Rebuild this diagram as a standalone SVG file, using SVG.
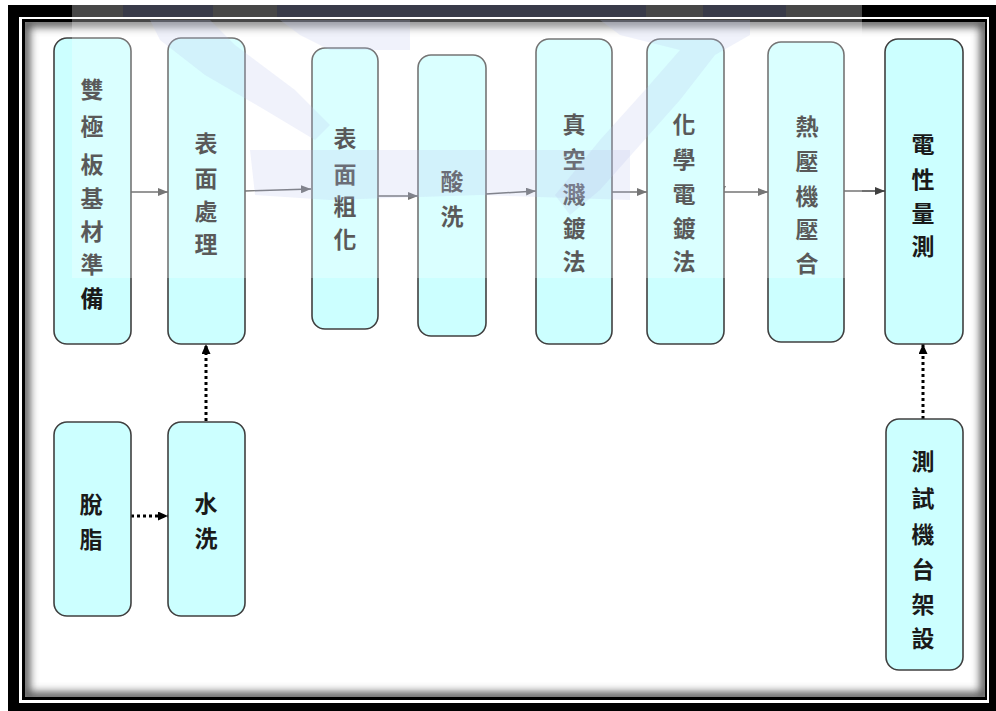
<svg xmlns="http://www.w3.org/2000/svg" width="996" height="711" viewBox="0 0 996 711">
<defs>
<style>
.node rect{fill:#CCFFFF;stroke:#404040;stroke-width:1.6}
.lbl{font-family:"Noto Sans CJK TC","Noto Sans CJK SC",sans-serif;font-weight:bold;font-size:23px;fill:#1a1a1a;text-anchor:middle;dominant-baseline:central}
.solid{stroke:#404040;stroke-width:1.4;fill:none}
.dot{stroke:#000;stroke-width:3;stroke-dasharray:3 3;fill:none}
.wm{fill:#b4c0ec;opacity:0.2}
</style>
<marker id="ah" markerWidth="10" markerHeight="8" refX="10" refY="4" orient="auto" markerUnits="userSpaceOnUse">
<path d="M0,0 L10,4 L0,8 Z" fill="#404040"/>
</marker>
<marker id="ahd" markerWidth="10" markerHeight="9" refX="10" refY="4.5" orient="auto" markerUnits="userSpaceOnUse">
<path d="M0,0 L10,4.5 L0,9 Z" fill="#000"/>
</marker>
<clipPath id="inner"><rect x="25" y="22" width="960" height="675"/></clipPath>
<filter id="blur" x="-5%" y="-5%" width="110%" height="110%"><feGaussianBlur stdDeviation="4"/></filter>
</defs>
<rect width="996" height="711" fill="#fff"/>
<g id="frame">
<rect x="8" y="5" width="988" height="706" fill="#000"/>
<rect x="19" y="17" width="970" height="686" fill="#fff"/>
<rect x="22" y="19" width="965" height="681" fill="#000"/>
<rect x="25" y="22" width="960" height="675" fill="#fff"/>
<g clip-path="url(#inner)"><rect x="25" y="22" width="960" height="675" fill="none" stroke="#555" stroke-width="10" filter="url(#blur)"/></g>
</g>
<g id="connectors">
<line class="solid" x1="131" y1="192" x2="168" y2="192" marker-end="url(#ah)"/>
<line class="solid" x1="245" y1="191" x2="311" y2="189" marker-end="url(#ah)"/>
<line class="solid" x1="378" y1="196" x2="418" y2="196" marker-end="url(#ah)"/>
<line class="solid" x1="486" y1="194" x2="536" y2="191" marker-end="url(#ah)"/>
<line class="solid" x1="612" y1="192" x2="647" y2="192" marker-end="url(#ah)"/>
<line class="solid" x1="724" y1="192" x2="768" y2="192" marker-end="url(#ah)"/>
<path d="M720,186 L726,186 L723,192 Z" fill="#404040"/>
<line class="solid" x1="844" y1="191" x2="885" y2="191" marker-end="url(#ah)"/>
<line class="dot" x1="131" y1="516" x2="168" y2="516" marker-end="url(#ahd)"/>
<line class="dot" x1="206" y1="421" x2="206" y2="344" marker-end="url(#ahd)"/>
<line class="dot" x1="923" y1="419" x2="923" y2="344" marker-end="url(#ahd)"/>
</g>
<g id="n1" class="node"><rect x="54" y="38" width="77" height="306" rx="13"/>
<text class="lbl"><tspan x="92" y="88">雙</tspan><tspan x="92" y="125">極</tspan><tspan x="92" y="163">板</tspan><tspan x="92" y="197">基</tspan><tspan x="92" y="230">材</tspan><tspan x="92" y="263">準</tspan><tspan x="92" y="297">備</tspan></text></g>
<g id="n2" class="node"><rect x="168" y="38" width="77" height="306" rx="13"/>
<text class="lbl"><tspan x="206" y="142">表</tspan><tspan x="206" y="177">面</tspan><tspan x="206" y="210">處</tspan><tspan x="206" y="243">理</tspan></text></g>
<g id="n3" class="node"><rect x="312" y="48" width="66" height="281" rx="13"/>
<text class="lbl"><tspan x="345" y="137">表</tspan><tspan x="345" y="173">面</tspan><tspan x="345" y="205">粗</tspan><tspan x="345" y="238">化</tspan></text></g>
<g id="n4" class="node"><rect x="418" y="55" width="68" height="281" rx="13"/>
<text class="lbl"><tspan x="452" y="180">酸</tspan><tspan x="452" y="215">洗</tspan></text></g>
<g id="n5" class="node"><rect x="536" y="39" width="76" height="305" rx="13"/>
<text class="lbl"><tspan x="574" y="123">真</tspan><tspan x="574" y="158">空</tspan><tspan x="574" y="193">濺</tspan><tspan x="574" y="227">鍍</tspan><tspan x="574" y="260">法</tspan></text></g>
<g id="n6" class="node"><rect x="647" y="39" width="77" height="305" rx="13"/>
<text class="lbl"><tspan x="684" y="123">化</tspan><tspan x="684" y="158">學</tspan><tspan x="684" y="193">電</tspan><tspan x="684" y="227">鍍</tspan><tspan x="684" y="260">法</tspan></text></g>
<g id="n7" class="node"><rect x="768" y="42" width="76" height="300" rx="13"/>
<text class="lbl"><tspan x="807" y="125">熱</tspan><tspan x="807" y="160">壓</tspan><tspan x="807" y="195">機</tspan><tspan x="807" y="228">壓</tspan><tspan x="807" y="262">合</tspan></text></g>
<g id="n8" class="node"><rect x="885" y="39" width="78" height="305" rx="13"/>
<text class="lbl"><tspan x="923" y="143">電</tspan><tspan x="923" y="178">性</tspan><tspan x="923" y="212">量</tspan><tspan x="923" y="245">測</tspan></text></g>
<g id="n9" class="node"><rect x="54" y="422" width="77" height="194" rx="13"/>
<text class="lbl"><tspan x="91" y="503">脫</tspan><tspan x="91" y="538">脂</tspan></text></g>
<g id="n10" class="node"><rect x="168" y="422" width="77" height="194" rx="13"/>
<text class="lbl"><tspan x="206" y="502">水</tspan><tspan x="206" y="537">洗</tspan></text></g>
<g id="n11" class="node"><rect x="886" y="419" width="77" height="251" rx="13"/>
<text class="lbl"><tspan x="923" y="460">測</tspan><tspan x="923" y="497">試</tspan><tspan x="923" y="533">機</tspan><tspan x="923" y="568">台</tspan><tspan x="923" y="603">架</tspan><tspan x="923" y="637">設</tspan></text></g>
<g id="watermark">
<rect x="72" y="0" width="790" height="278" fill="#fff" opacity="0.28"/>
<rect x="123" y="5" width="90" height="12" fill="#1c2050" opacity="0.3"/>
<rect x="277" y="5" width="369" height="12" fill="#1c2050" opacity="0.3"/>
<rect x="703" y="5" width="83" height="12" fill="#1c2050" opacity="0.3"/>
<path class="wm" d="M150,20 L210,20 L235,45 L295,90 L330,125 L315,140 L265,110 L205,75 L160,40 Z"/>
<path class="wm" d="M280,20 L410,20 L410,50 L330,50 L300,35 Z"/>
<path class="wm" d="M250,150 L630,150 L630,200 L480,195 L330,200 L255,195 Z"/>
<path class="wm" d="M600,20 L750,20 L750,35 L715,55 L680,100 L640,145 L600,190 L570,215 L555,195 L600,140 L645,90 L680,50 L620,35 Z"/>
</g>
</svg>
